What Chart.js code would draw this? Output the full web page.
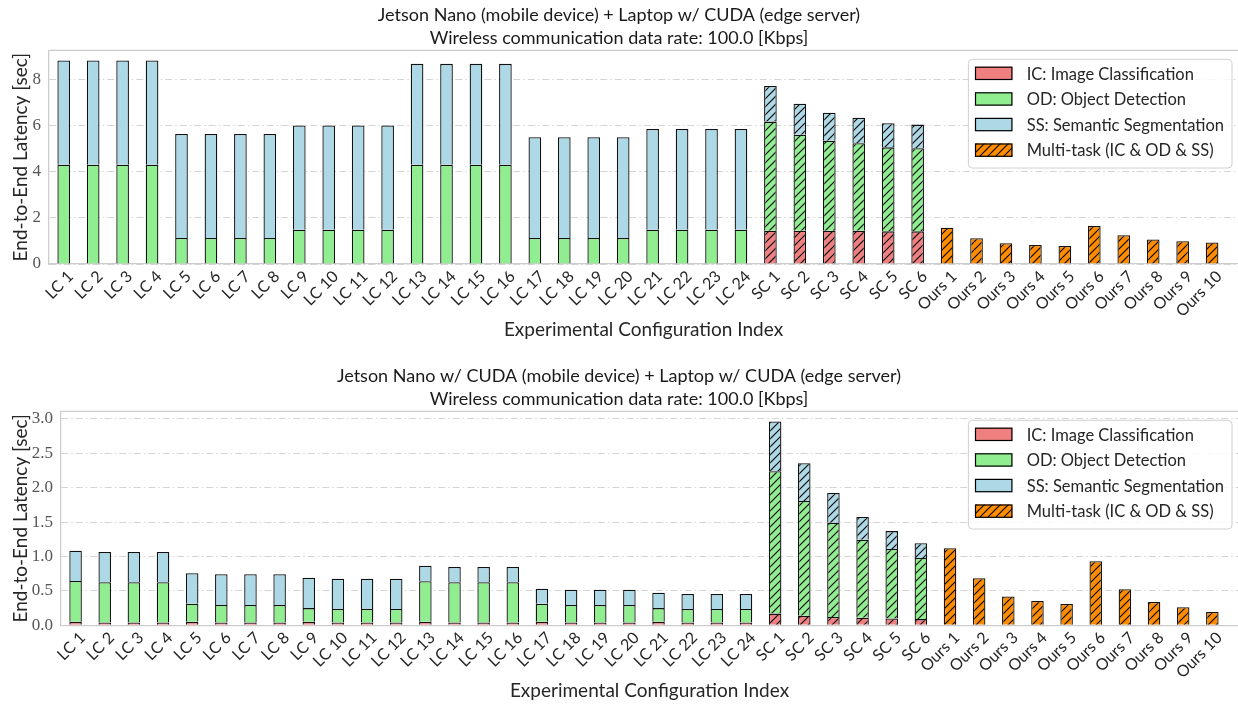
<!DOCTYPE html>
<html>
<head>
<meta charset="utf-8">
<title>End-to-End Latency</title>
<script src="https://cdn.jsdelivr.net/npm/chart.js@4.4.1/dist/chart.umd.min.js"></script>
<style>
  html, body { margin: 0; padding: 0; background: #ffffff; }
  .panel { position: relative; width: 1238px; height: 353px; }
  canvas { display: block; }
</style>
</head>
<body>
<div class="panel"><canvas id="nano" width="1238" height="353"></canvas></div>
<div class="panel"><canvas id="cuda" width="1238" height="353"></canvas></div>
<script>
// ---------------- data ----------------
const categories = [
  'LC 1', 'LC 2', 'LC 3', 'LC 4', 'LC 5', 'LC 6', 'LC 7', 'LC 8',
  'LC 9', 'LC 10', 'LC 11', 'LC 12', 'LC 13', 'LC 14', 'LC 15', 'LC 16',
  'LC 17', 'LC 18', 'LC 19', 'LC 20', 'LC 21', 'LC 22', 'LC 23', 'LC 24',
  'SC 1', 'SC 2', 'SC 3', 'SC 4', 'SC 5', 'SC 6',
  'Ours 1', 'Ours 2', 'Ours 3', 'Ours 4', 'Ours 5',
  'Ours 6', 'Ours 7', 'Ours 8', 'Ours 9', 'Ours 10'
];

const seriesLabels = [
  'IC: Image Classification',
  'OD: Object Detection',
  'SS: Semantic Segmentation',
  'Multi-task (IC & OD & SS)'
];

// Jetson Nano (mobile device) + Laptop w/ CUDA (edge server), seconds
const icNano = [
  null, null, null, null, null, null, null, null, null, null, null, null,
  null, null, null, null, null, null, null, null, null, null, null, null,
  1.45, 1.45, 1.45, 1.45, 1.42, 1.42,
  null, null, null, null, null, null, null, null, null, null
];
const odNano = [
  4.32, 4.32, 4.32, 4.32, 1.13, 1.13, 1.13, 1.13, 1.49, 1.49, 1.49, 1.49,
  4.32, 4.32, 4.32, 4.32, 1.13, 1.13, 1.13, 1.13, 1.49, 1.49, 1.49, 1.49,
  4.74, 4.17, 3.91, 3.80, 3.65, 3.61,
  null, null, null, null, null, null, null, null, null, null
];
const ssNano = [
  4.53, 4.53, 4.53, 4.53, 4.52, 4.52, 4.52, 4.52, 4.53, 4.53, 4.53, 4.53,
  4.38, 4.38, 4.38, 4.38, 4.38, 4.38, 4.38, 4.38, 4.38, 4.38, 4.38, 4.38,
  1.55, 1.35, 1.22, 1.11, 1.05, 1.03,
  null, null, null, null, null, null, null, null, null, null
];
const multiNano = [
  null, null, null, null, null, null, null, null, null, null, null, null,
  null, null, null, null, null, null, null, null, null, null, null, null,
  null, null, null, null, null, null,
  1.58, 1.12, 0.90, 0.83, 0.78, 1.65, 1.25, 1.07, 0.99, 0.94
];

// Jetson Nano w/ CUDA (mobile device) + Laptop w/ CUDA (edge server), seconds
const icCuda = [
  0.05, 0.04, 0.04, 0.04, 0.05, 0.04, 0.04, 0.04, 0.05, 0.04, 0.04, 0.04,
  0.05, 0.04, 0.04, 0.04, 0.05, 0.04, 0.04, 0.04, 0.05, 0.04, 0.04, 0.04,
  0.17, 0.14, 0.12, 0.11, 0.10, 0.09,
  null, null, null, null, null, null, null, null, null, null
];
const odCuda = [
  0.595, 0.585, 0.585, 0.585, 0.264, 0.255, 0.255, 0.255, 0.200, 0.197, 0.197, 0.197,
  0.590, 0.585, 0.585, 0.585, 0.264, 0.255, 0.255, 0.255, 0.200, 0.197, 0.197, 0.197,
  2.070, 1.667, 1.371, 1.134, 1.008, 0.887,
  null, null, null, null, null, null, null, null, null, null
];
const ssCuda = [
  0.440, 0.440, 0.440, 0.440, 0.442, 0.446, 0.446, 0.446, 0.441, 0.441, 0.441, 0.441,
  0.226, 0.222, 0.222, 0.222, 0.218, 0.223, 0.223, 0.223, 0.223, 0.218, 0.218, 0.218,
  0.722, 0.548, 0.432, 0.330, 0.261, 0.216,
  null, null, null, null, null, null, null, null, null, null
];
const multiCuda = [
  null, null, null, null, null, null, null, null, null, null, null, null,
  null, null, null, null, null, null, null, null, null, null, null, null,
  null, null, null, null, null, null,
  1.120, 0.683, 0.420, 0.353, 0.310, 0.930, 0.523, 0.339, 0.262, 0.193
];

const yTicksNano = [0, 2, 4, 6, 8];
const yTicksCuda = [0, 0.5, 1.0, 1.5, 2.0, 2.5, 3.0];

const titleNano = ['Jetson Nano (mobile device) + Laptop w/ CUDA (edge server)',
                   'Wireless communication data rate: 100.0 [Kbps]'];
const titleCuda = ['Jetson Nano w/ CUDA (mobile device) + Laptop w/ CUDA (edge server)',
                   'Wireless communication data rate: 100.0 [Kbps]'];

// ---------------- styling ----------------
const SANS = 'Lato, "DejaVu Sans", sans-serif';
const SERIF = '"Liberation Serif", "DejaVu Serif", serif';
const COLORS = ['#F08080', '#90EE90', '#ADD8E6', '#FF8C00'];
const SPINE = '#cccccc';
const INK = '#262626';

// diagonal "//" hatch on top of a base colour
function hatch(color) {
  const s = 8;
  const tile = document.createElement('canvas');
  tile.width = s; tile.height = s;
  const g = tile.getContext('2d');
  g.fillStyle = color;
  g.fillRect(0, 0, s, s);
  g.strokeStyle = '#000000';
  g.lineWidth = 1.1;
  g.beginPath();
  g.moveTo(0, s); g.lineTo(s, 0);
  g.moveTo(-s / 2, s / 2); g.lineTo(s / 2, -s / 2);
  g.moveTo(s / 2, s * 1.5); g.lineTo(s * 1.5, s / 2);
  g.stroke();
  return g.createPattern(tile, 'repeat');
}
const HATCHED = COLORS.map(hatch);

// split-computing bars are hatched, local-computing bars are plain
function segmentFill(k) {
  return (ctx) => {
    const i = ctx.dataIndex;
    if (i === undefined) return COLORS[k];
    return categories[i].startsWith('SC') ? HATCHED[k] : COLORS[k];
  };
}

const points = (vals) => vals.map((v, i) => ({ x: i, y: v }));

// top spine plus a boxed key in the upper-right corner of the plot
const frameKey = {
  id: 'frameKey',
  afterDraw(chart) {
    const { ctx, chartArea } = chart;
    ctx.save();
    ctx.strokeStyle = SPINE;
    ctx.lineWidth = 1.25;
    ctx.beginPath();
    ctx.moveTo(chartArea.left, chartArea.top);
    ctx.lineTo(chartArea.right, chartArea.top);
    ctx.stroke();

    const items = chart.data.datasets.map(d => ({ text: d.label, fill: d.keyFill }));
    ctx.font = '16.5px ' + SANS;
    const tw = Math.max(...items.map(it => ctx.measureText(it.text).width));
    const padL = 6.6, patchW = 37.4, patchH = 13.3, gap = 14.3, padR = 8;
    const rowH = 25.6, padT = 7.4, padB = 11.2;
    const w = padL + patchW + gap + tw + padR;
    const h = padT + (items.length - 1) * rowH + patchH + padB;
    const x0 = chartArea.right - 6 - w;
    const y0 = chartArea.top + 9;

    ctx.beginPath();
    ctx.roundRect(x0, y0, w, h, 4);
    ctx.fillStyle = 'rgba(255,255,255,0.8)';
    ctx.fill();
    ctx.strokeStyle = '#d0d0d0';
    ctx.lineWidth = 1;
    ctx.stroke();

    items.forEach((it, i) => {
      const px = x0 + padL;
      const py = y0 + padT + i * rowH;
      ctx.fillStyle = it.fill;
      ctx.fillRect(px, py, patchW, patchH);
      ctx.strokeStyle = '#000000';
      ctx.lineWidth = 1.2;
      ctx.strokeRect(px + 0.5, py + 0.5, patchW - 1, patchH - 1);
      ctx.fillStyle = INK;
      ctx.textAlign = 'left';
      ctx.textBaseline = 'middle';
      ctx.fillText(it.text, px + patchW + gap, py + patchH / 2 + 1);
    });
    ctx.restore();
  }
};

function buildChart(id, cfg) {
  const sets = [cfg.ic, cfg.od, cfg.ss].map((vals, k) => ({
    label: seriesLabels[k],
    data: points(vals),
    backgroundColor: segmentFill(k),
    keyFill: COLORS[k],
    borderColor: '#111111',
    borderWidth: 1.3
  }));
  sets.push({
    label: seriesLabels[3],
    data: points(cfg.multi),
    backgroundColor: HATCHED[3],
    keyFill: HATCHED[3],
    borderColor: '#111111',
    borderWidth: 1.3
  });

  return new Chart(document.getElementById(id), {
    type: 'bar',
    data: { datasets: sets },
    plugins: [frameKey],
    options: {
      responsive: false,
      animation: false,
      events: [],
      categoryPercentage: 1,
      barPercentage: 0.43,
      layout: { padding: { left: 0, right: 0, top: 0, bottom: 0 } },
      plugins: {
        legend: { display: false },
        tooltip: { enabled: false },
        title: {
          display: true,
          text: cfg.title,
          color: '#1a1a1a',
          font: { family: SANS, size: 18, weight: 'normal', lineHeight: '23px' },
          padding: { top: cfg.titleTop, bottom: 0.8 }
        }
      },
      scales: {
        x: {
          type: 'linear',
          min: -0.5,
          max: 39.88,
          offset: false,
          stacked: true,
          grid: { display: false, drawTicks: false },
          border: { display: true, color: SPINE, width: 1.25 },
          afterBuildTicks: (s) => { s.ticks = categories.map((_, i) => ({ value: i })); },
          afterFit: (s) => { s.height = cfg.xHeight; s.paddingLeft = 0; s.paddingRight = 0; },
          ticks: {
            autoSkip: false,
            minRotation: 45,
            maxRotation: 45,
            padding: 3,
            labelOffset: 7,
            color: INK,
            font: { family: SANS, size: 16 },
            callback: (v) => categories[v] ?? ''
          },
          title: {
            display: true,
            text: 'Experimental Configuration Index',
            color: INK,
            font: { family: SANS, size: 19 },
            padding: { top: 0, bottom: cfg.xTitlePad }
          }
        },
        y: {
          min: 0,
          max: cfg.yMax,
          stacked: true,
          afterBuildTicks: (s) => { s.ticks = cfg.yTicks.map(v => ({ value: v })); },
          afterFit: (s) => { s.width = cfg.yWidth; },
          grid: { color: '#d4d4d4', lineWidth: 1, drawTicks: false },
          border: { display: true, color: SPINE, width: 1.25, dash: [7, 3, 1.5, 3] },
          ticks: {
            padding: 8,
            color: '#555555',
            font: { family: SERIF, size: 17 },
            callback: (v) => v.toFixed(cfg.decimals)
          },
          title: {
            display: true,
            text: 'End-to-End Latency [sec]',
            color: INK,
            font: { family: SANS, size: 19 },
            padding: { top: 9, bottom: 0 }
          }
        }
      }
    }
  });
}

buildChart('nano', {
  ic: icNano, od: odNano, ss: ssNano, multi: multiNano,
  title: titleNano, titleTop: 3.5,
  yMax: 9.29, yTicks: yTicksNano, decimals: 0,
  yWidth: 49, xHeight: 89, xTitlePad: 12
});

buildChart('cuda', {
  ic: icCuda, od: odCuda, ss: ssCuda, multi: multiCuda,
  title: titleCuda, titleTop: 11.5,
  yMax: 3.11, yTicks: yTicksCuda, decimals: 1,
  yWidth: 61, xHeight: 80.7, xTitlePad: 4
});
</script>
</body>
</html>
